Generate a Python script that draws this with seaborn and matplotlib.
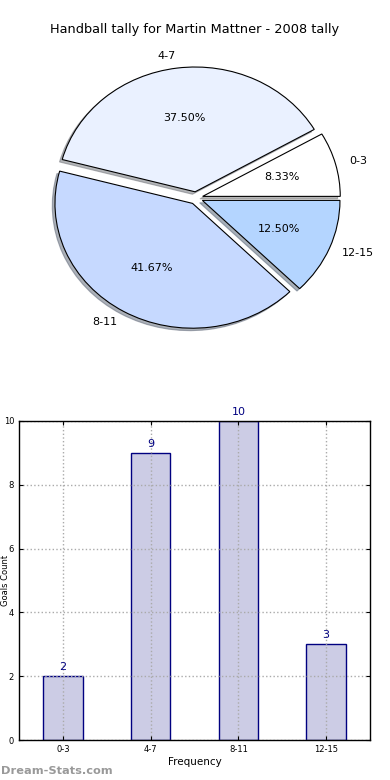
import matplotlib
matplotlib.use("Agg")
import matplotlib.pyplot as plt
import seaborn as sns
import pandas as pd

# data
ranges = ["0-3", "4-7", "8-11", "12-15"]
counts = [2, 9, 10, 3]
pie_colors = ["#FFFFFF", "#EAF1FF", "#C6D9FF", "#B4D5FF"]
explode = [0.05, 0.05, 0.05, 0.05]

sns.set_style("white")
plt.rcParams["font.family"] = ["DejaVu Sans"]
plt.rcParams["text.color"] = "black"
plt.rcParams["axes.labelcolor"] = "black"
plt.rcParams["xtick.color"] = "black"
plt.rcParams["ytick.color"] = "black"

fig = plt.figure(figsize=(3.9, 7.8), dpi=100)

# Pie chart
pw, ph = 344, 312
ax1 = fig.add_axes([(196 - pw / 2) / 390, 1 - (198 + ph / 2) / 780, pw / 390, ph / 780])
ax1.pie(
    counts,
    labels=ranges,
    colors=pie_colors,
    explode=explode,
    autopct="%1.2f%%",
    shadow={"ox": -0.014, "oy": -0.014, "shade": 0.55},
    startangle=0,
    wedgeprops={"edgecolor": "black", "linewidth": 0.8},
    textprops={"fontsize": 8, "color": "black"},
)
ax1.set_aspect("auto")
ax1.set_xlim(-1.25, 1.25)
ax1.set_ylim(-1.25, 1.25)
fig.text(0.5, 1 - 30 / 780, "Handball tally for Martin Mattner - 2008 tally",
         ha="center", va="center", fontsize=9.3, color="black")

# Bar chart
ax2 = fig.add_axes([19 / 390, 40 / 780, 351 / 390, 319 / 780])
df = pd.DataFrame({"range": ranges, "count": counts})
sns.barplot(data=df, x="range", y="count", ax=ax2, color="#CCCCE5",
            edgecolor="navy", linewidth=1, width=0.45, saturation=1)
for i, v in enumerate(counts):
    ax2.text(i, v + 0.12, str(v), ha="center", va="bottom", color="navy", fontsize=8)
ax2.set_ylim(0, 10)
ax2.set_yticks([0, 2, 4, 6, 8, 10])
ax2.set_xlim(-0.5, 3.5)
ax2.grid(True, linestyle=":", color="#AAAAAA", linewidth=1)
ax2.set_axisbelow(False)
for s in ax2.spines.values():
    s.set_color("black")
    s.set_linewidth(1)
    s.set_zorder(5)
ax2.tick_params(axis="both", direction="in", labelsize=6, length=3,
                top=True, right=True, bottom=True, left=True)
ax2.set_xlabel("Frequency", fontsize=7.5, labelpad=2)
ax2.set_ylabel("Goals Count", fontsize=6)
ax2.yaxis.set_label_coords(-0.027, 0.5)

fig.text(1 / 390, 9 / 780, "Dream-Stats.com", color="#999999", fontsize=8.2,
         fontweight="bold", ha="left", va="center")

fig.savefig("out.png", dpi=100)
